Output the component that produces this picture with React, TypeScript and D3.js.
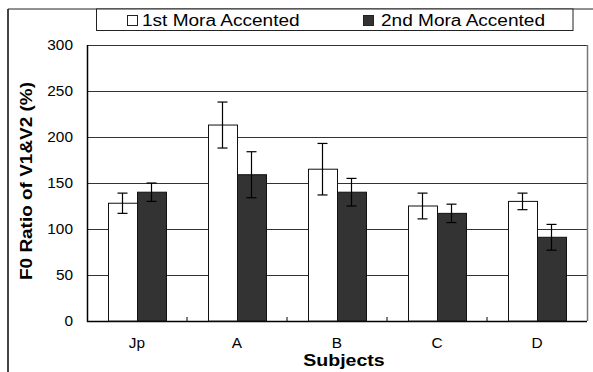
import React from 'react';
import * as d3 from 'd3';

const subjects = ['Jp', 'A', 'B', 'C', 'D'];
const seriesNames = ['1st Mora Accented', '2nd Mora Accented'];
const firstMora = [128, 213, 165, 125, 130];
const firstErr = [11, 25, 28, 14, 9];
const secondMora = [140, 159, 140, 117, 91];
const secondErr = [10, 25, 15, 10, 14];
const yTicks = [0, 50, 100, 150, 200, 250, 300];

const fills = ['#ffffff', '#333333'];
const font = '"Liberation Sans", Arial, sans-serif';

function App() {
    const W = 593, H = 372;
    const left = 87, right = 587, top = 45, bottom = 321;

    const x = d3.scaleBand().domain(subjects).range([left, right]).paddingInner(0).paddingOuter(0);
    const y = d3.scaleLinear().domain([0, 300]).range([bottom, top]);
    const inner = d3.scaleBand().domain(['0', '1']).range([0, 58]);
    const barOffset = (x.bandwidth() - 58) / 2;

    const series = [
        { vals: firstMora, errs: firstErr },
        { vals: secondMora, errs: secondErr },
    ];

    return (
        <svg width={W} height={H} style={{ position: 'absolute', left: 0, top: 0, background: '#fff' }}>
            {/* outer frame (cropped) */}
            <line x1={8} y1={372} x2={8} y2={9} stroke="#444" strokeWidth={2} />
            <line x1={8} y1={9} x2={593} y2={9} stroke="#222" strokeWidth={1} />

            {/* legend */}
            <rect x={96.5} y={9} width={476.5} height={21.5} fill="#fff" stroke="#222" strokeWidth={1} />
            <rect x={127.5} y={15.5} width={10} height={10} fill={fills[0]} stroke="#222" />
            <text transform="translate(142,26) scale(1.19,1)" fontFamily={font} fontSize={16}>{seriesNames[0]}</text>
            <rect x={363.5} y={15.5} width={10} height={10} fill={fills[1]} stroke="#222" />
            <text transform="translate(381,26) scale(1.19,1)" fontFamily={font} fontSize={16}>{seriesNames[1]}</text>

            {/* gridlines */}
            {yTicks.map(t => (
                <line key={'g' + t} x1={left} x2={right} y1={Math.round(y(t)) + 0.5} y2={Math.round(y(t)) + 0.5}
                    stroke={t === 0 ? '#000' : '#333'} strokeWidth={t === 0 ? 1.5 : 1} />
            ))}
            {/* plot right border */}
            <line x1={right + 0.5} x2={right + 0.5} y1={top} y2={bottom} stroke="#777" strokeWidth={1.5} />

            {/* bars */}
            {series.map((s, si) => s.vals.map((v, i) => {
                const bx = (x(subjects[i]) as number) + barOffset + (inner(String(si)) as number);
                return (
                    <rect key={'b' + si + i} x={bx + 0.5} y={y(v)} width={inner.bandwidth()} height={bottom - y(v)}
                        fill={fills[si]} stroke="#111" strokeWidth={1} />
                );
            }))}

            {/* error bars */}
            {series.map((s, si) => s.vals.map((v, i) => {
                const cx = (x(subjects[i]) as number) + barOffset + (inner(String(si)) as number) + inner.bandwidth() / 2;
                const hi = y(v + s.errs[i]), lo = y(v - s.errs[i]);
                return (
                    <g key={'e' + si + i} stroke="#000" strokeWidth={1.2}>
                        <line x1={cx} x2={cx} y1={hi} y2={lo} />
                        <line x1={cx - 5} x2={cx + 5} y1={hi} y2={hi} />
                        <line x1={cx - 5} x2={cx + 5} y1={lo} y2={lo} />
                    </g>
                );
            }))}

            {/* axes */}
            <line x1={left + 0.5} x2={left + 0.5} y1={top} y2={bottom + 1} stroke="#000" strokeWidth={1.5} />
            {subjects.slice(1).map(sj => (
                <line key={'t' + sj} x1={x(sj)} x2={x(sj)} y1={bottom} y2={bottom - 4} stroke="#000" />
            ))}

            {/* y tick labels */}
            {yTicks.map(t => (
                <text key={'yl' + t} transform={`translate(73,${y(t) + 5}) scale(1.1,1)`} textAnchor="end"
                    fontFamily={font} fontSize={14}>{t}</text>
            ))}

            {/* x labels */}
            {subjects.map(sj => (
                <text key={'xl' + sj} transform={`translate(${(x(sj) as number) + x.bandwidth() / 2},348) scale(1.1,1)`}
                    textAnchor="middle" fontFamily={font} fontSize={14}>{sj}</text>
            ))}
            <text transform="translate(344,366) scale(1.15,1)" textAnchor="middle" fontFamily={font} fontSize={17}
                fontWeight="bold">Subjects</text>

            <text transform="translate(32,181) rotate(-90)" textAnchor="middle" fontFamily={font} fontSize={16}
                fontWeight="bold" textLength={198} lengthAdjust="spacingAndGlyphs">F0 Ratio of V1&amp;V2 (%)</text>
        </svg>
    );
}

export default App;
